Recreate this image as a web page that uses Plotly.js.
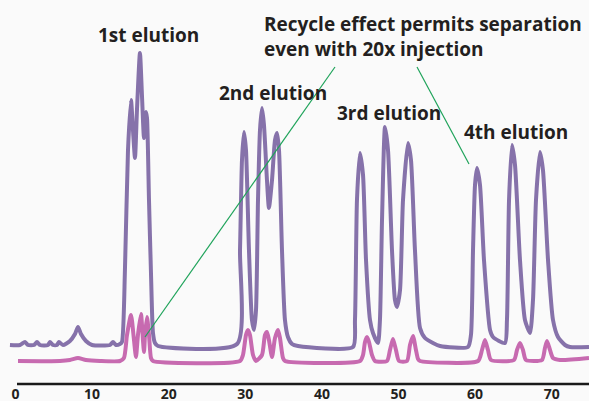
<!DOCTYPE html>
<html>
<head>
<meta charset="utf-8">
<script src="https://cdn.plot.ly/plotly-3.0.1.min.js"></script>
<style>
html,body{margin:0;padding:0;background:#fafafa;}
#chart{width:589px;height:401px;}
</style>
</head>
<body>
<div id="chart"></div>
<script>
// Retention time (min) and detector signal (a.u.) — 20x injection (recycle, purple)
const timeRecycle = [-0.72,0.59,1.24,1.63,2.42,2.81,3.20,4.24,4.50,4.90,5.42,5.68,6.20,7.11,7.77,8.16,8.55,9.20,9.99,12.34,12.73,13.12,13.64,13.90,14.29,14.69,15.08,15.34,15.60,15.86,16.25,16.51,16.78,17.04,17.17,17.43,17.69,17.95,18.21,18.60,
  28.92,29.31,29.57,29.83,30.09,30.48,30.87,31.14,31.40,31.66,31.92,32.18,32.44,32.83,33.09,33.49,33.88,34.14,34.40,34.79,35.18,35.57,36.10,36.88,
  44.06,44.32,44.58,44.97,45.37,45.76,46.28,46.67,47.32,47.58,47.85,48.24,48.63,49.15,49.54,49.80,50.20,50.59,51.24,51.63,52.15,52.81,53.46,54.50,55.42,
  59.07,59.46,59.73,59.99,60.25,60.64,61.16,61.95,62.34,63.90,64.16,64.43,64.82,65.21,65.86,66.51,67.17,67.56,67.95,68.47,68.86,69.52,70.17,70.82,71.74,72.39,74.87];
const signalRecycle = [39,39,42,39,39,42,39,39,42,39,39,42,39,43,50,57,50,43,39,39,42,39,40,42,114,234,284,254,226,274,331,289,246,272,266,184,111,51,41,38,
  40,134,224,252,234,134,64,54,74,184,254,276,259,204,176,204,244,251,234,134,64,47,40,38,
  37,64,184,231,209,124,64,51,41,64,164,257,234,134,84,77,94,184,241,224,134,56,46,41,38,
  37,49,134,199,216,199,124,54,47,41,64,184,239,219,124,64,51,84,184,232,214,124,64,47,39,37,37];

// 1x injection (pink)
const timeSingle = [0.33,5.81,7.11,8.16,9.20,11.03,13.64,14.16,14.56,15.08,15.47,15.73,15.99,16.38,16.64,16.78,16.91,17.17,17.43,17.69,17.95,
  29.31,29.70,30.09,30.35,30.61,31.01,31.40,32.18,32.57,32.83,33.09,33.49,33.88,34.27,34.53,34.92,35.18,
  44.97,45.37,45.63,45.89,46.15,46.54,46.93,48.50,48.89,49.28,49.67,50.07,51.11,51.50,51.89,52.28,52.55,52.81,
  60.38,60.90,61.29,61.68,62.08,65.08,65.47,65.86,66.25,66.64,68.73,69.12,69.39,69.78,70.17,71.08,74.87];
const signalSingle = [23,23,24,26,24,23,23,26,49,69,44,27,49,70,44,32,49,67,49,26,23,
  23,29,49,54,49,29,23,29,49,52,44,27,46,54,46,26,23,
  23,29,42,47,42,29,23,23,34,45,34,23,23,39,48,34,25,23,
  23,34,44,34,24,24,34,41,34,24,24,36,43,34,26,24,26];

const tickVals = [0,10,20,30,40,50,60,70];
const tickText = ['0','10','20','30','40','50','60','70'];
const labels = ['1st elution','2nd elution','3rd elution','4th elution'];
const noteLines = ['Recycle effect permits separation','even with 20x injection'];

const txtFont = {family:'Open Sans, sans-serif', size:19, color:'#231f20', weight:700};

const traces = [
  {x:timeRecycle, y:signalRecycle, mode:'lines', line:{color:'#8672aa', width:4, shape:'spline', smoothing:0.6}, hoverinfo:'skip'},
  {x:timeSingle, y:signalSingle, mode:'lines', line:{color:'#c76ab0', width:4, shape:'spline', smoothing:0.6}, hoverinfo:'skip'}
];

function py(p){return 1 - p/384;}
function px(p){return p/589;}

const layout = {
  width:589, height:401,
  margin:{l:0,r:0,t:0,b:17,pad:0},
  paper_bgcolor:'#fafafa', plot_bgcolor:'#fafafa',
  showlegend:false,
  xaxis:{range:[-2.02,74.87], showgrid:false, zeroline:false, showline:false, ticks:'',
    tickvals:tickVals, ticktext:tickText, tickfont:{family:'Open Sans, sans-serif', size:14, color:'#231f20', weight:700}},
  yaxis:{range:[0,384], visible:false, showgrid:false, zeroline:false},
  shapes:[
    {type:'line', xref:'paper', yref:'paper', x0:px(17), x1:1, y0:0, y1:0, line:{color:'#1a1a1a', width:2.3}},
    {type:'line', xref:'paper', yref:'paper', x0:px(335), y0:py(67), x1:px(145), y1:py(337), line:{color:'#1fa35a', width:1.2}},
    {type:'line', xref:'paper', yref:'paper', x0:px(417), y0:py(67), x1:px(469), y1:py(164), line:{color:'#1fa35a', width:1.2}}
  ],
  annotations:[
    {text:labels[0], xref:'paper', yref:'paper', x:px(148), y:py(35), xanchor:'center', yanchor:'middle', showarrow:false, font:txtFont},
    {text:labels[1], xref:'paper', yref:'paper', x:px(273), y:py(93), xanchor:'center', yanchor:'middle', showarrow:false, font:txtFont},
    {text:labels[2], xref:'paper', yref:'paper', x:px(389), y:py(113), xanchor:'center', yanchor:'middle', showarrow:false, font:txtFont},
    {text:labels[3], xref:'paper', yref:'paper', x:px(515.5), y:py(131.5), xanchor:'center', yanchor:'middle', showarrow:false, font:txtFont},
    {text:noteLines.join('<br>'), xref:'paper', yref:'paper', x:px(262), y:py(36), xanchor:'left', yanchor:'middle', align:'left', showarrow:false, font:txtFont}
  ]
};

Plotly.newPlot('chart', traces, layout, {staticPlot:true, displayModeBar:false});
</script>
</body>
</html>
